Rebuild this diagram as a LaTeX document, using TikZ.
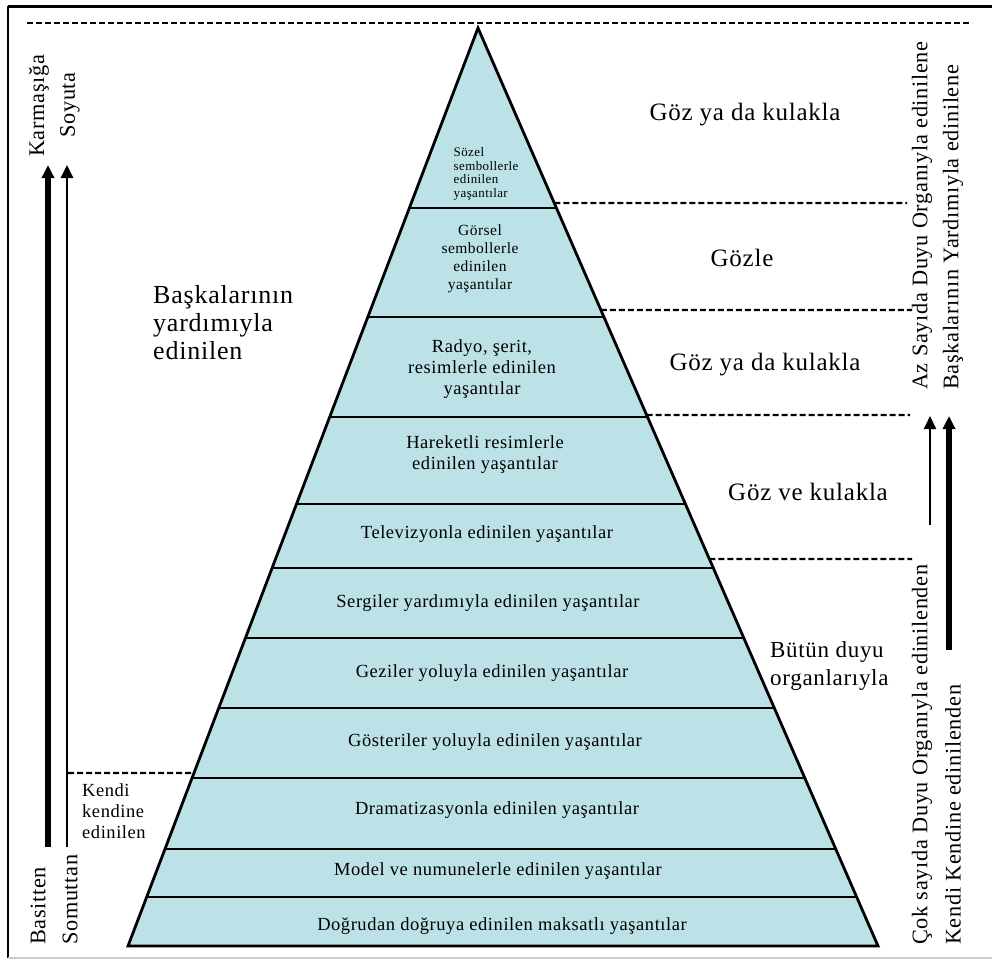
\documentclass[tikz,border=0pt]{standalone}
\usepackage{fontspec}
\setmainfont{Liberation Serif}[LetterSpace=3]
\usetikzlibrary{arrows.meta}
\usetikzlibrary{calc}
\definecolor{bandfill}{RGB}{188,226,231}
\newcommand{\fs}[2]{\fontsize{#1}{#2}\selectfont}

\begin{document}
\begin{tikzpicture}[x=1pt, y=-1pt,
    bandline/.style={line width=2.8pt},
    dashline/.style={line width=2.2pt, dash pattern=on 6pt off 3pt},
    bandlabel/.style={inner sep=0pt, align=center, font=\fs{18.5}{21}},
    sidelabel/.style={inner sep=0pt, font=\fs{25}{28}},
    vlabel/.style={inner sep=0pt, rotate=90, anchor=west, font=\fs{22.3}{26}},
    rise/.style={-{Triangle[length=13pt, width=12pt]}}]
    \useasboundingbox (0, 0) rectangle (992, 959);
    % frame
    \draw[line width=3pt] (8, 6) -- (992, 6);
    \draw[line width=2pt] (8, 6) -- (8, 958);
    \draw[gray!40, line width=1.5pt] (8, 958) -- (992, 958);
    \draw[dashline] (27, 23) -- (972, 23);

    % pyramid
    \coordinate (top) at (478, 28);
    \coordinate (bl) at (128, 946);
    \coordinate (br) at (878, 946);
    \fill[bandfill] (top) -- (bl) -- (br) -- cycle;
    \foreach \y in {208, 317, 417, 504, 568, 638, 708, 778, 849, 897}
        \draw[bandline] ($(top)!{(\y-28)/918}!(bl)$) -- ($(top)!{(\y-28)/918}!(br)$);
    \draw[line width=2.8pt, line join=miter] (top) -- (bl) -- (br) -- cycle;

    \node[inner sep=0pt, align=left, font=\fs{13}{13.5}] (sozel) at (486, 174)
        {Sözel\\sembollerle\\edinilen\\yaşantılar};
    \node[bandlabel, font=\fs{15.5}{18}] (gorsel) at (480, 259)
        {Görsel\\sembollerle\\edinilen\\yaşantılar};
    \node[bandlabel] (radyo) at (482, 369) {Radyo, şerit,\\resimlerle edinilen\\yaşantılar};
    \node[bandlabel] (hareket) at (485, 455) {Hareketli resimlerle\\edinilen yaşantılar};
    \node[bandlabel] (tv) at (487, 534) {Televizyonla edinilen yaşantılar};
    \node[bandlabel] (sergi) at (488, 603) {Sergiler yardımıyla edinilen yaşantılar};
    \node[bandlabel] (gezi) at (492, 673) {Geziler yoluyla edinilen yaşantılar};
    \node[bandlabel] (gosteri) at (495, 742) {Gösteriler yoluyla edinilen yaşantılar};
    \node[bandlabel] (drama) at (497, 810) {Dramatizasyonla edinilen yaşantılar};
    \node[bandlabel] (model) at (498, 871) {Model ve numunelerle edinilen yaşantılar};
    \node[bandlabel] (dogrudan) at (502, 926) {Doğrudan doğruya edinilen maksatlı yaşantılar};

    % right side
    \foreach \y/\x in {203/907, 310/912, 415/910, 559/912}
        \draw[dashline] ($(top)!{(\y-28)/918}!(br)$) -- (\x, \y);
    \node[sidelabel] (goz1) at (745, 115) {Göz ya da kulakla};
    \node[sidelabel] (gozle) at (742, 258) {Gözle};
    \node[sidelabel] (goz2) at (765, 365) {Göz ya da kulakla};
    \node[sidelabel] (gozve) at (808, 492) {Göz ve kulakla};
    \node[sidelabel, anchor=west, align=left, font=\fs{23}{28}] (butun) at (770, 666)
        {Bütün duyu\\organlarıyla};
    \node[vlabel] (az) at (922, 390) {Az Sayıda Duyu Organıyla edinilene};
    \node[vlabel] (baska) at (953, 390) {Başkalarının Yardımıyla edinilene};
    \node[vlabel] (cok) at (922, 945) {Çok sayıda Duyu Organıyla edinilenden};
    \node[vlabel] (kendi) at (953, 945) {Kendi Kendine edinilenden};
    \coordinate (rthin0) at (930, 525);
    \coordinate (rthin1) at (930, 416);
    \coordinate (rthick0) at (949, 650);
    \coordinate (rthick1) at (949, 416);
    \draw[rise, line width=2pt] (rthin0) -- (rthin1);
    \draw[rise, line width=5.5pt] (rthick0) -- (rthick1);

    % left side
    \draw[dashline] (68, 773) -- ($(top)!{(773-28)/918}!(bl)$);
    \node[sidelabel, anchor=west, align=left, font=\fs{26}{28}] (baskalari) at (153, 323)
        {Başkalarının\\yardımıyla\\edinilen};
    \node[inner sep=0pt, anchor=west, align=left, font=\fs{18.5}{21}] (kendine) at (82, 811)
        {Kendi\\kendine\\edinilen};
    \node[vlabel, anchor=center] (karmasiga) at (39, 106) {Karmaşığa};
    \node[vlabel, anchor=center] (soyuta) at (70, 105) {Soyuta};
    \node[vlabel] (basitten) at (38, 945) {Basitten};
    \node[vlabel] (somuttan) at (70, 945) {Somuttan};
    \coordinate (lthick0) at (48, 847);
    \coordinate (lthick1) at (48, 165);
    \coordinate (lthin0) at (67, 847);
    \coordinate (lthin1) at (67, 165);
    \draw[rise, line width=5.5pt] (lthick0) -- (lthick1);
    \draw[rise, line width=2.6pt] (lthin0) -- (lthin1);
\end{tikzpicture}
\end{document}
